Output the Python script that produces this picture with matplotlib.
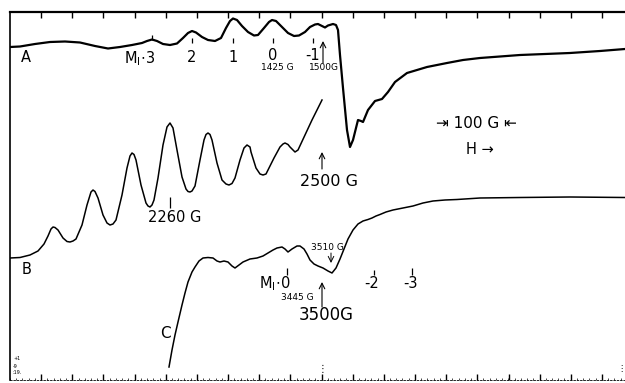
import numpy as np
import matplotlib.pyplot as plt

# Traces (x = position along field sweep, y = pen height, both in chart units)
a_x = [10, 20, 35, 50, 65, 80, 95, 108, 120, 132, 142, 147, 152, 157, 163, 170, 177, 183, 188, 192,
       196, 202, 208, 215, 221, 226, 230, 233, 237, 242, 248, 254, 258, 264, 269, 272, 276, 282, 288,
       294, 299, 305, 310, 315, 318, 322, 325, 328, 333, 336, 338, 340, 343, 347, 350, 353, 358, 361,
       363, 368, 375, 382, 388, 395, 407, 417, 427, 437, 447, 463, 480, 500, 520, 545, 570, 600, 625]
a_y = [47, 46.5, 44, 42, 41.5, 42.5, 46, 48.5, 47, 45, 43, 41, 39.5, 41, 44, 45, 43.5, 38, 33, 31,
       32.5, 37, 40, 41, 38, 28, 21, 18.5, 20, 26, 32, 35.5, 35, 28, 22, 20, 21, 27, 33,
       36, 35.5, 32, 27, 24.5, 24, 26, 27.5, 25.5, 24, 25, 30, 55, 88, 130, 147, 140, 120, 121,
       122, 110, 101, 99, 92, 82, 73, 70, 67, 65, 63, 60, 58, 56.5, 55, 54, 53, 51, 49]

b_x = [10, 20, 30, 38, 44, 48, 51, 53, 55, 58, 63, 67, 70, 73, 76, 82, 87, 91, 93, 95, 98, 103, 107,
       110, 113, 116, 122, 127, 130, 132, 134, 136, 141, 146, 148, 150, 152, 154, 158, 163, 167, 170,
       173, 177, 182, 186, 188, 190, 192, 195, 200, 204, 206, 208, 210, 212, 217, 222, 226, 229, 232,
       235, 240, 244, 247, 250, 251, 256, 260, 263, 266, 268, 274, 280, 283, 285, 288, 290, 295,
       298, 305, 312, 318, 322]
b_y = [258, 257.5, 255, 251, 244, 236, 229, 227, 227.5, 230, 238, 241.5, 242, 241, 239, 225, 205, 192,
       190, 191.5, 198, 215, 223, 225, 224, 220, 195, 168, 156, 153, 154.5, 160, 185, 203, 206, 207,
       205, 200, 178, 145, 127, 123, 128, 150, 177, 189, 191.5, 192, 191, 186, 160, 140, 134.5, 133,
       134.5, 140, 163, 180, 184, 185, 183.5, 178, 160, 148, 145, 147, 152, 168, 174, 175, 174,
       170, 158, 147, 144, 143, 144.5, 147, 152, 150, 135, 120, 108, 100]

c_x = [169, 172, 175, 178, 182, 185, 188, 192, 195, 199, 203, 208, 213, 217, 220, 224, 228, 232,
       235, 239, 243, 250, 257, 263, 268, 273, 277, 282, 285, 288, 292, 297, 300, 304, 307, 310,
       314, 318, 323, 328, 332, 336, 340, 344, 348, 353, 358, 363, 368, 372, 376, 380, 386, 393,
       403, 413, 423, 433, 445, 457, 480, 520, 570, 625]
c_y = [367, 350, 335, 322, 305, 293, 282, 272, 267, 261, 258, 257.5, 258, 261, 262, 261, 262, 266,
       268, 265, 262, 259, 258, 256, 253, 250, 248, 247, 249, 252, 249, 246, 246, 249, 254, 260,
       264, 266, 268, 271, 273, 268, 259, 249, 239, 230, 224, 221, 219.5, 218, 216, 214.5, 212,
       210, 208, 206, 203, 201, 200, 199.5, 198, 197.5, 197, 197.5]

# hyperfine line markers and their labels
a_marks = [152, 192, 233, 273, 313]
a_labels = ["2", "1", "0", "-1"]
c_marks = [287, 374, 412]

plt.rcParams["font.family"] = ["DejaVu Sans"]

fig = plt.figure(figsize=(6.25, 3.83), dpi=100)
ax = fig.add_axes([10 / 625, 3 / 383, 615 / 625, 368 / 383])
ax.set_xlim(10, 625)
ax.set_ylim(380, 12)

# frame: heavy top and left, light dotted bottom, no right side
ax.spines["right"].set_visible(False)
ax.spines["left"].set_linewidth(1.2)
ax.spines["top"].set_linewidth(1.6)
ax.spines["bottom"].set_linewidth(0.6)
ax.spines["bottom"].set_linestyle((0, (2, 2)))
ax.set_xticks(np.arange(41, 625, 31.17))
ax.set_xticks(np.arange(10, 625, 6.23), minor=True)
ax.set_yticks([])
ax.tick_params(axis="x", which="both", direction="in", top=True, bottom=True,
               labelbottom=False, labeltop=False)
ax.tick_params(axis="x", which="major", length=4, width=1)
ax.tick_params(axis="x", which="minor", length=1.5, width=0.5, top=False)

ax.plot(a_x, a_y, color="black", lw=1.6, solid_joinstyle="round")
ax.plot(b_x, b_y, color="black", lw=1.1, solid_joinstyle="round")
ax.plot(c_x, c_y, color="black", lw=1.1, solid_joinstyle="round")

# --- trace A labels
ax.vlines(a_marks, [35, 38, 38, 38, 38], [40, 43, 43, 43, 43], color="black", lw=0.9)
ax.text(26, 58, "A", fontsize=10.5, ha="center", va="center")
ax.text(140, 59, r"$\mathrm{M}_\mathrm{I}\!\cdot\!\mathrm{3}$", fontsize=10.5, ha="center", va="center")
for x, lab, y in zip(a_marks[1:], a_labels, [58, 58, 55, 55]):
    ax.text(x, y, lab, fontsize=10.5, ha="center", va="center")
ax.text(277, 68, "1425 G", fontsize=6.5, ha="center", va="center")
ax.text(324, 68, "1500G", fontsize=6.5, ha="center", va="center")
ax.annotate("", xy=(323, 41), xytext=(323, 63),
            arrowprops=dict(arrowstyle="->", lw=0.8, color="black", shrinkA=0, shrinkB=0))

# --- trace B labels
ax.text(27, 270, "B", fontsize=10.5, ha="center", va="center")
ax.vlines([170], [197], [208], color="black", lw=0.9)
ax.text(175, 218, "2260 G", fontsize=10.5, ha="center", va="center")
ax.text(329, 181, "2500 G", fontsize=11.5, ha="center", va="center")
ax.annotate("", xy=(322, 152), xytext=(322, 169),
            arrowprops=dict(arrowstyle="->", lw=0.8, color="black", shrinkA=0, shrinkB=0))

ax.text(476, 123, "\u21e5 100 G \u21e4", fontsize=11, ha="center", va="center")
ax.text(480, 150, "H \u2192", fontsize=10.5, ha="center", va="center")

# --- trace C labels
ax.text(165, 333, "C", fontsize=11, ha="center", va="center")
ax.vlines(c_marks, [268, 270, 268], [275, 275, 275], color="black", lw=0.9)
ax.text(275, 284, r"$\mathrm{M}_\mathrm{I}\!\cdot\!\mathrm{0}$", fontsize=10.5, ha="center", va="center")
ax.text(297, 298, "3445 G", fontsize=6.5, ha="center", va="center")
ax.text(326, 315, "3500G", fontsize=12, ha="center", va="center")
ax.annotate("", xy=(322, 282), xytext=(322, 307),
            arrowprops=dict(arrowstyle="->", lw=0.8, color="black", shrinkA=0, shrinkB=0))
ax.text(327, 248, "3510 G", fontsize=6.5, ha="center", va="center")
ax.annotate("", xy=(331, 263), xytext=(331, 253),
            arrowprops=dict(arrowstyle="->", lw=0.7, color="black", shrinkA=0, shrinkB=0))
ax.text(372, 284, "-2", fontsize=10.5, ha="center", va="center")
ax.text(410, 284, "-3", fontsize=10.5, ha="center", va="center")

# scan residue near the bottom edge
ax.text(13, 359, "+1", fontsize=3.5, ha="left", va="center")
ax.text(13, 366, "-9", fontsize=3.5, ha="left", va="center")
ax.text(12, 373, ":19.", fontsize=3.5, ha="left", va="center")
ax.text(322, 369, "\u22ee", fontsize=7, ha="center", va="center")
ax.text(621, 369, "\u22ee", fontsize=6, ha="center", va="center")

fig.savefig("out.png", dpi=100)
